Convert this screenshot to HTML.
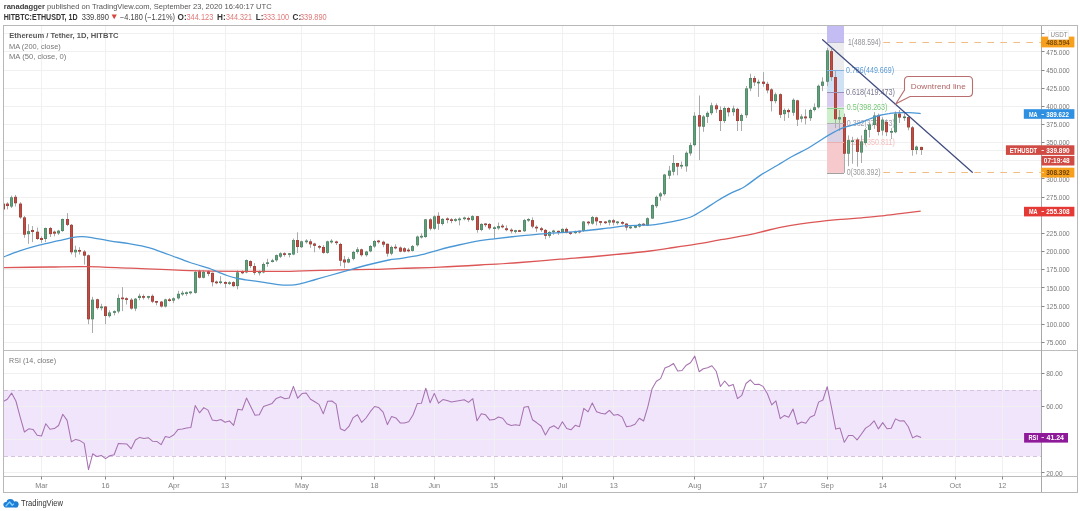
<!DOCTYPE html><html><head><meta charset="utf-8"><title>ETHUSDT chart</title><style>html,body{margin:0;padding:0;background:#fff;width:1080px;height:511px;overflow:hidden;position:relative}</style></head><body><svg width="1080" height="511" viewBox="0 0 1080 511" style="position:absolute;left:0;top:0;filter:blur(0.4px)">
<defs><clipPath id="mainclip"><rect x="4" y="26" width="1037" height="324"/></clipPath><clipPath id="rsiclip"><rect x="4" y="351" width="1037" height="125"/></clipPath></defs>
<rect width="1080" height="511" fill="#fff"/>
<text x="3.7" y="9.2" font-family='"Liberation Sans", Arial, sans-serif' font-size="8" fill="#555" textLength="268" lengthAdjust="spacingAndGlyphs"><tspan font-weight="bold" fill="#3a3a3a">ranadagger</tspan> published on TradingView.com, September 23, 2020 16:40:17 UTC</text>
<text x="3.7" y="19.5" font-family='"Liberation Sans", Arial, sans-serif' font-size="8.2" fill="#333" font-weight="bold" textLength="73.8" lengthAdjust="spacingAndGlyphs">HITBTC:ETHUSDT, 1D</text>
<text x="81.7" y="19.5" font-family='"Liberation Sans", Arial, sans-serif' font-size="8.2" fill="#444" textLength="27.3" lengthAdjust="spacingAndGlyphs">339.890</text>
<path d="M111.6 14.6H116.8L114.2 19.2Z" fill="#d9453f"/>
<text x="120" y="19.5" font-family='"Liberation Sans", Arial, sans-serif' font-size="8.2" fill="#444" textLength="55" lengthAdjust="spacingAndGlyphs">−4.180 (−1.21%)</text>
<text x="177.6" y="19.5" font-family='"Liberation Sans", Arial, sans-serif' font-size="8.2" fill="#333" font-weight="bold">O:</text>
<text x="186.5" y="19.5" font-family='"Liberation Sans", Arial, sans-serif' font-size="8.2" fill="#e07878" textLength="26.8" lengthAdjust="spacingAndGlyphs">344.123</text>
<text x="217" y="19.5" font-family='"Liberation Sans", Arial, sans-serif' font-size="8.2" fill="#333" font-weight="bold">H:</text>
<text x="225.9" y="19.5" font-family='"Liberation Sans", Arial, sans-serif' font-size="8.2" fill="#e07878" textLength="26" lengthAdjust="spacingAndGlyphs">344.321</text>
<text x="255.8" y="19.5" font-family='"Liberation Sans", Arial, sans-serif' font-size="8.2" fill="#333" font-weight="bold">L:</text>
<text x="262.9" y="19.5" font-family='"Liberation Sans", Arial, sans-serif' font-size="8.2" fill="#e07878" textLength="26" lengthAdjust="spacingAndGlyphs">333.100</text>
<text x="292.5" y="19.5" font-family='"Liberation Sans", Arial, sans-serif' font-size="8.2" fill="#333" font-weight="bold">C:</text>
<text x="299.9" y="19.5" font-family='"Liberation Sans", Arial, sans-serif' font-size="8.2" fill="#e07878" textLength="26.8" lengthAdjust="spacingAndGlyphs">339.890</text>
<rect x="4" y="390.0" width="1037" height="66.3" fill="#f1e5fc"/>
<path d="M41.5 26V476M105.5 26V476M173.5 26V476M225.5 26V476M301.5 26V476M374.5 26V476M434.5 26V476M494.5 26V476M562.5 26V476M613.5 26V476M694.5 26V476M763.5 26V476M827.5 26V476M882.5 26V476M955.5 26V476M1002.5 26V476M4 342.5H1041M4 324.5H1041M4 306.5H1041M4 287.5H1041M4 269.5H1041M4 251.5H1041M4 233.5H1041M4 215.5H1041M4 197.5H1041M4 178.5H1041M4 160.5H1041M4 142.5H1041M4 124.5H1041M4 106.5H1041M4 88.5H1041M4 70.5H1041M4 51.5H1041M4 33.5H1041M4 373.5H1041M4 406.5H1041M4 439.5H1041M4 472.5H1041M4 150.5H1041" stroke="#f0f0f0" stroke-width="1" fill="none"/>
<path d="M4 390.5H1041M4 456.5H1041" stroke="#d4c4de" stroke-width="1" stroke-dasharray="4 3" fill="none"/>
<rect x="827" y="26" width="17" height="16.0" fill="#c3bdf3"/>
<rect x="827" y="42.0" width="17" height="28.3" fill="#ecebee"/>
<rect x="827" y="70.3" width="17" height="21.9" fill="#cfe2f5"/>
<rect x="827" y="92.2" width="17" height="15.4" fill="#d9cdef"/>
<rect x="827" y="107.6" width="17" height="15.4" fill="#cdf0cb"/>
<rect x="827" y="123.0" width="17" height="19.1" fill="#dad2e2"/>
<rect x="827" y="142.1" width="17" height="30.8" fill="#f6c9cc"/>
<text x="848" y="44.5" font-family='"Liberation Sans", Arial, sans-serif' font-size="8.2" fill="#909098" textLength="32.7" lengthAdjust="spacingAndGlyphs">1(488.594)</text>
<text x="846" y="72.8" font-family='"Liberation Sans", Arial, sans-serif' font-size="8.2" fill="#5a9ad8" textLength="48" lengthAdjust="spacingAndGlyphs">0.786(449.669)</text>
<text x="846" y="94.7" font-family='"Liberation Sans", Arial, sans-serif' font-size="8.2" fill="#7a7890" textLength="49" lengthAdjust="spacingAndGlyphs">0.618(419.473)</text>
<text x="846.8" y="110.1" font-family='"Liberation Sans", Arial, sans-serif' font-size="8.2" fill="#78c878" textLength="40.7" lengthAdjust="spacingAndGlyphs">0.5(398.263)</text>
<text x="846.8" y="125.5" font-family='"Liberation Sans", Arial, sans-serif' font-size="8.2" fill="#a0a0b0" textLength="48" lengthAdjust="spacingAndGlyphs">0.382(377.053)</text>
<text x="846.8" y="144.6" font-family='"Liberation Sans", Arial, sans-serif' font-size="8.2" fill="#f4c0c0" textLength="48" lengthAdjust="spacingAndGlyphs">0.236(350.811)</text>
<text x="846.7" y="175.4" font-family='"Liberation Sans", Arial, sans-serif' font-size="8.2" fill="#9a9a9a" textLength="34" lengthAdjust="spacingAndGlyphs">0(308.392)</text>
<g clip-path="url(#mainclip)"><path d="M3.5 200.7V211.6" stroke="#aaaaaa" stroke-width="1"/><rect x="2.0" y="203.63" width="3" height="5.81" fill="#923c35"/><rect x="2.5" y="204.13" width="2" height="4.81" fill="#c04d44"/><path d="M7.5 202.2V209.4" stroke="#aaaaaa" stroke-width="1"/><rect x="6.0" y="203.63" width="3" height="2.40" fill="#923c35"/><rect x="6.5" y="204.13" width="2" height="1.40" fill="#c04d44"/><path d="M11.5 195.6V208.0" stroke="#aaaaaa" stroke-width="1"/><rect x="10.0" y="197.39" width="3" height="9.15" fill="#477c5d"/><rect x="10.5" y="197.89" width="2" height="8.15" fill="#62a07c"/><path d="M15.5 194.9V206.5" stroke="#aaaaaa" stroke-width="1"/><rect x="14.0" y="196.81" width="3" height="6.46" fill="#923c35"/><rect x="14.5" y="197.31" width="2" height="5.46" fill="#c04d44"/><path d="M20.5 202.2V218.9" stroke="#aaaaaa" stroke-width="1"/><rect x="19.0" y="203.63" width="3" height="13.79" fill="#923c35"/><rect x="19.5" y="204.13" width="2" height="12.79" fill="#c04d44"/><path d="M24.5 216.0V237.8" stroke="#aaaaaa" stroke-width="1"/><rect x="23.0" y="217.43" width="3" height="17.21" fill="#923c35"/><rect x="23.5" y="217.93" width="2" height="16.21" fill="#c04d44"/><path d="M28.5 224.2V243.8" stroke="#aaaaaa" stroke-width="1"/><rect x="27.0" y="231.22" width="3" height="2.90" fill="#477c5d"/><rect x="27.5" y="231.72" width="2" height="1.90" fill="#62a07c"/><path d="M32.5 226.1V242.1" stroke="#aaaaaa" stroke-width="1"/><rect x="31.0" y="229.99" width="3" height="1.96" fill="#923c35"/><rect x="31.5" y="230.49" width="2" height="0.96" fill="#c04d44"/><path d="M37.5 227.6V239.9" stroke="#aaaaaa" stroke-width="1"/><rect x="36.0" y="231.73" width="3" height="7.26" fill="#923c35"/><rect x="36.5" y="232.23" width="2" height="6.26" fill="#c04d44"/><path d="M41.5 236.3V242.8" stroke="#aaaaaa" stroke-width="1"/><rect x="40.0" y="238.05" width="3" height="1.89" fill="#923c35"/><rect x="40.5" y="238.55" width="2" height="0.89" fill="#c04d44"/><path d="M45.5 227.6V242.1" stroke="#aaaaaa" stroke-width="1"/><rect x="44.0" y="228.03" width="3" height="10.96" fill="#477c5d"/><rect x="44.5" y="228.53" width="2" height="9.96" fill="#62a07c"/><path d="M50.5 226.9V237.0" stroke="#aaaaaa" stroke-width="1"/><rect x="49.0" y="228.03" width="3" height="6.10" fill="#923c35"/><rect x="49.5" y="228.53" width="2" height="5.10" fill="#c04d44"/><path d="M54.5 230.5V236.3" stroke="#aaaaaa" stroke-width="1"/><rect x="53.0" y="231.66" width="3" height="1.96" fill="#923c35"/><rect x="53.5" y="232.16" width="2" height="0.96" fill="#c04d44"/><path d="M58.5 229.8V234.9" stroke="#aaaaaa" stroke-width="1"/><rect x="57.0" y="230.71" width="3" height="2.69" fill="#477c5d"/><rect x="57.5" y="231.21" width="2" height="1.69" fill="#62a07c"/><path d="M62.5 218.5V231.9" stroke="#aaaaaa" stroke-width="1"/><rect x="61.0" y="219.03" width="3" height="11.98" fill="#477c5d"/><rect x="61.5" y="219.53" width="2" height="10.98" fill="#62a07c"/><path d="M67.5 213.1V226.1" stroke="#aaaaaa" stroke-width="1"/><rect x="66.0" y="219.03" width="3" height="5.81" fill="#923c35"/><rect x="66.5" y="219.53" width="2" height="4.81" fill="#c04d44"/><path d="M71.5 224.0V254.5" stroke="#aaaaaa" stroke-width="1"/><rect x="70.0" y="224.83" width="3" height="27.44" fill="#923c35"/><rect x="70.5" y="225.33" width="2" height="26.44" fill="#c04d44"/><path d="M75.5 245.7V257.4" stroke="#aaaaaa" stroke-width="1"/><rect x="74.0" y="249.81" width="3" height="2.47" fill="#477c5d"/><rect x="74.5" y="250.31" width="2" height="1.47" fill="#62a07c"/><path d="M79.5 247.2V254.5" stroke="#aaaaaa" stroke-width="1"/><rect x="78.0" y="250.02" width="3" height="1.60" fill="#923c35"/><rect x="78.5" y="250.52" width="2" height="0.60" fill="#c04d44"/><path d="M84.5 250.1V264.6" stroke="#aaaaaa" stroke-width="1"/><rect x="83.0" y="251.55" width="3" height="4.07" fill="#923c35"/><rect x="83.5" y="252.05" width="2" height="3.07" fill="#c04d44"/><path d="M88.5 254.5V324.2" stroke="#aaaaaa" stroke-width="1"/><rect x="87.0" y="255.33" width="3" height="63.96" fill="#923c35"/><rect x="87.5" y="255.83" width="2" height="62.96" fill="#c04d44"/><path d="M92.5 296.8V333.0" stroke="#aaaaaa" stroke-width="1"/><rect x="91.0" y="299.68" width="3" height="19.60" fill="#477c5d"/><rect x="91.5" y="300.18" width="2" height="18.60" fill="#62a07c"/><path d="M97.5 298.7V309.6" stroke="#aaaaaa" stroke-width="1"/><rect x="96.0" y="299.32" width="3" height="8.78" fill="#923c35"/><rect x="96.5" y="299.82" width="2" height="7.78" fill="#c04d44"/><path d="M101.5 303.8V310.4" stroke="#aaaaaa" stroke-width="1"/><rect x="100.0" y="306.51" width="3" height="1.67" fill="#477c5d"/><rect x="100.5" y="307.01" width="2" height="0.67" fill="#62a07c"/><path d="M105.5 306.0V324.2" stroke="#aaaaaa" stroke-width="1"/><rect x="104.0" y="306.51" width="3" height="9.51" fill="#923c35"/><rect x="104.5" y="307.01" width="2" height="8.51" fill="#c04d44"/><path d="M109.5 310.4V317.6" stroke="#aaaaaa" stroke-width="1"/><rect x="108.0" y="312.53" width="3" height="3.63" fill="#477c5d"/><rect x="108.5" y="313.03" width="2" height="2.63" fill="#62a07c"/><path d="M114.5 310.4V315.4" stroke="#aaaaaa" stroke-width="1"/><rect x="113.0" y="311.19" width="3" height="1.60" fill="#477c5d"/><rect x="113.5" y="311.69" width="2" height="0.60" fill="#62a07c"/><path d="M118.5 294.4V313.3" stroke="#aaaaaa" stroke-width="1"/><rect x="117.0" y="298.01" width="3" height="13.43" fill="#477c5d"/><rect x="117.5" y="298.51" width="2" height="12.43" fill="#62a07c"/><path d="M122.5 287.1V311.1" stroke="#aaaaaa" stroke-width="1"/><rect x="121.0" y="297.58" width="3" height="1.60" fill="#923c35"/><rect x="121.5" y="298.08" width="2" height="0.60" fill="#c04d44"/><path d="M126.5 297.3V304.5" stroke="#aaaaaa" stroke-width="1"/><rect x="125.0" y="298.30" width="3" height="1.60" fill="#923c35"/><rect x="125.5" y="298.80" width="2" height="0.60" fill="#c04d44"/><path d="M131.5 298.0V309.6" stroke="#aaaaaa" stroke-width="1"/><rect x="130.0" y="299.68" width="3" height="8.86" fill="#923c35"/><rect x="130.5" y="300.18" width="2" height="7.86" fill="#c04d44"/><path d="M135.5 298.0V311.1" stroke="#aaaaaa" stroke-width="1"/><rect x="134.0" y="298.74" width="3" height="9.80" fill="#477c5d"/><rect x="134.5" y="299.24" width="2" height="8.80" fill="#62a07c"/><path d="M139.5 293.7V300.2" stroke="#aaaaaa" stroke-width="1"/><rect x="138.0" y="295.84" width="3" height="2.18" fill="#477c5d"/><rect x="138.5" y="296.34" width="2" height="1.18" fill="#62a07c"/><path d="M143.5 294.4V299.5" stroke="#aaaaaa" stroke-width="1"/><rect x="142.0" y="296.12" width="3" height="1.60" fill="#923c35"/><rect x="142.5" y="296.62" width="2" height="0.60" fill="#c04d44"/><path d="M148.5 295.8V299.5" stroke="#aaaaaa" stroke-width="1"/><rect x="147.0" y="296.12" width="3" height="1.60" fill="#477c5d"/><rect x="147.5" y="296.62" width="2" height="0.60" fill="#62a07c"/><path d="M152.5 294.4V303.1" stroke="#aaaaaa" stroke-width="1"/><rect x="151.0" y="295.84" width="3" height="5.81" fill="#923c35"/><rect x="151.5" y="296.34" width="2" height="4.81" fill="#c04d44"/><path d="M156.5 300.9V305.3" stroke="#aaaaaa" stroke-width="1"/><rect x="155.0" y="301.03" width="3" height="1.60" fill="#923c35"/><rect x="155.5" y="301.53" width="2" height="0.60" fill="#c04d44"/><path d="M161.5 300.9V307.5" stroke="#aaaaaa" stroke-width="1"/><rect x="160.0" y="301.64" width="3" height="4.86" fill="#923c35"/><rect x="160.5" y="302.14" width="2" height="3.86" fill="#c04d44"/><path d="M165.5 298.7V307.5" stroke="#aaaaaa" stroke-width="1"/><rect x="164.0" y="299.47" width="3" height="7.04" fill="#477c5d"/><rect x="164.5" y="299.97" width="2" height="6.04" fill="#62a07c"/><path d="M169.5 298.0V301.6" stroke="#aaaaaa" stroke-width="1"/><rect x="168.0" y="299.39" width="3" height="1.60" fill="#923c35"/><rect x="168.5" y="299.89" width="2" height="0.60" fill="#c04d44"/><path d="M173.5 297.3V303.1" stroke="#aaaaaa" stroke-width="1"/><rect x="172.0" y="298.38" width="3" height="2.18" fill="#477c5d"/><rect x="172.5" y="298.88" width="2" height="1.18" fill="#62a07c"/><path d="M178.5 290.8V299.5" stroke="#aaaaaa" stroke-width="1"/><rect x="177.0" y="293.80" width="3" height="4.50" fill="#477c5d"/><rect x="177.5" y="294.30" width="2" height="3.50" fill="#62a07c"/><path d="M182.5 290.8V295.8" stroke="#aaaaaa" stroke-width="1"/><rect x="181.0" y="292.79" width="3" height="1.60" fill="#477c5d"/><rect x="181.5" y="293.29" width="2" height="0.60" fill="#62a07c"/><path d="M186.5 291.5V295.8" stroke="#aaaaaa" stroke-width="1"/><rect x="185.0" y="292.31" width="3" height="1.60" fill="#477c5d"/><rect x="185.5" y="292.81" width="2" height="0.60" fill="#62a07c"/><path d="M190.5 291.5V294.4" stroke="#aaaaaa" stroke-width="1"/><rect x="189.0" y="291.59" width="3" height="1.60" fill="#477c5d"/><rect x="189.5" y="292.09" width="2" height="0.60" fill="#62a07c"/><path d="M195.5 271.2V293.7" stroke="#aaaaaa" stroke-width="1"/><rect x="194.0" y="271.88" width="3" height="20.91" fill="#477c5d"/><rect x="194.5" y="272.38" width="2" height="19.91" fill="#62a07c"/><path d="M199.5 269.7V278.4" stroke="#aaaaaa" stroke-width="1"/><rect x="198.0" y="271.30" width="3" height="6.39" fill="#923c35"/><rect x="198.5" y="271.80" width="2" height="5.39" fill="#c04d44"/><path d="M203.5 270.4V278.4" stroke="#aaaaaa" stroke-width="1"/><rect x="202.0" y="271.88" width="3" height="5.81" fill="#477c5d"/><rect x="202.5" y="272.38" width="2" height="4.81" fill="#62a07c"/><path d="M208.5 270.4V276.2" stroke="#aaaaaa" stroke-width="1"/><rect x="207.0" y="271.30" width="3" height="2.54" fill="#923c35"/><rect x="207.5" y="271.80" width="2" height="1.54" fill="#c04d44"/><path d="M212.5 272.6V286.4" stroke="#aaaaaa" stroke-width="1"/><rect x="211.0" y="272.82" width="3" height="9.37" fill="#923c35"/><rect x="211.5" y="273.32" width="2" height="8.37" fill="#c04d44"/><path d="M216.5 280.6V284.2" stroke="#aaaaaa" stroke-width="1"/><rect x="215.0" y="281.61" width="3" height="1.60" fill="#923c35"/><rect x="215.5" y="282.11" width="2" height="0.60" fill="#c04d44"/><path d="M220.5 276.2V284.2" stroke="#aaaaaa" stroke-width="1"/><rect x="219.0" y="281.42" width="3" height="1.60" fill="#477c5d"/><rect x="219.5" y="281.92" width="2" height="0.60" fill="#62a07c"/><path d="M225.5 281.3V287.9" stroke="#aaaaaa" stroke-width="1"/><rect x="224.0" y="282.04" width="3" height="1.74" fill="#923c35"/><rect x="224.5" y="282.54" width="2" height="0.74" fill="#c04d44"/><path d="M229.5 281.3V284.9" stroke="#aaaaaa" stroke-width="1"/><rect x="228.0" y="282.33" width="3" height="1.60" fill="#477c5d"/><rect x="228.5" y="282.83" width="2" height="0.60" fill="#62a07c"/><path d="M233.5 281.3V287.1" stroke="#aaaaaa" stroke-width="1"/><rect x="232.0" y="282.19" width="3" height="3.92" fill="#923c35"/><rect x="232.5" y="282.69" width="2" height="2.92" fill="#c04d44"/><path d="M237.5 270.4V289.3" stroke="#aaaaaa" stroke-width="1"/><rect x="236.0" y="272.39" width="3" height="13.72" fill="#477c5d"/><rect x="236.5" y="272.89" width="2" height="12.72" fill="#62a07c"/><path d="M242.5 270.4V274.1" stroke="#aaaaaa" stroke-width="1"/><rect x="241.0" y="271.62" width="3" height="1.60" fill="#923c35"/><rect x="241.5" y="272.12" width="2" height="0.60" fill="#c04d44"/><path d="M246.5 259.5V273.3" stroke="#aaaaaa" stroke-width="1"/><rect x="245.0" y="260.12" width="3" height="12.27" fill="#477c5d"/><rect x="245.5" y="260.62" width="2" height="11.27" fill="#62a07c"/><path d="M250.5 260.3V268.2" stroke="#aaaaaa" stroke-width="1"/><rect x="249.0" y="261.13" width="3" height="4.94" fill="#923c35"/><rect x="249.5" y="261.63" width="2" height="3.94" fill="#c04d44"/><path d="M254.5 263.2V274.8" stroke="#aaaaaa" stroke-width="1"/><rect x="253.0" y="266.07" width="3" height="6.75" fill="#923c35"/><rect x="253.5" y="266.57" width="2" height="5.75" fill="#c04d44"/><path d="M259.5 270.4V275.5" stroke="#aaaaaa" stroke-width="1"/><rect x="258.0" y="271.62" width="3" height="1.60" fill="#477c5d"/><rect x="258.5" y="272.12" width="2" height="0.60" fill="#62a07c"/><path d="M263.5 262.4V273.3" stroke="#aaaaaa" stroke-width="1"/><rect x="262.0" y="264.04" width="3" height="8.35" fill="#477c5d"/><rect x="262.5" y="264.54" width="2" height="7.35" fill="#62a07c"/><path d="M267.5 258.8V266.8" stroke="#aaaaaa" stroke-width="1"/><rect x="266.0" y="262.37" width="3" height="1.60" fill="#477c5d"/><rect x="266.5" y="262.87" width="2" height="0.60" fill="#62a07c"/><path d="M272.5 258.8V262.4" stroke="#aaaaaa" stroke-width="1"/><rect x="271.0" y="260.37" width="3" height="1.60" fill="#477c5d"/><rect x="271.5" y="260.87" width="2" height="0.60" fill="#62a07c"/><path d="M276.5 254.5V261.7" stroke="#aaaaaa" stroke-width="1"/><rect x="275.0" y="255.18" width="3" height="5.08" fill="#477c5d"/><rect x="275.5" y="255.68" width="2" height="4.08" fill="#62a07c"/><path d="M280.5 252.3V258.1" stroke="#aaaaaa" stroke-width="1"/><rect x="279.0" y="253.37" width="3" height="3.27" fill="#477c5d"/><rect x="279.5" y="253.87" width="2" height="2.27" fill="#62a07c"/><path d="M284.5 252.3V256.6" stroke="#aaaaaa" stroke-width="1"/><rect x="283.0" y="253.29" width="3" height="1.60" fill="#923c35"/><rect x="283.5" y="253.79" width="2" height="0.60" fill="#c04d44"/><path d="M289.5 253.0V257.4" stroke="#aaaaaa" stroke-width="1"/><rect x="288.0" y="253.29" width="3" height="1.60" fill="#477c5d"/><rect x="288.5" y="253.79" width="2" height="0.60" fill="#62a07c"/><path d="M293.5 238.5V255.2" stroke="#aaaaaa" stroke-width="1"/><rect x="292.0" y="240.08" width="3" height="14.37" fill="#477c5d"/><rect x="292.5" y="240.58" width="2" height="13.37" fill="#62a07c"/><path d="M297.5 232.3V253.0" stroke="#aaaaaa" stroke-width="1"/><rect x="296.0" y="240.08" width="3" height="6.90" fill="#923c35"/><rect x="296.5" y="240.58" width="2" height="5.90" fill="#c04d44"/><path d="M301.5 240.7V247.9" stroke="#aaaaaa" stroke-width="1"/><rect x="300.0" y="241.39" width="3" height="5.81" fill="#477c5d"/><rect x="300.5" y="241.89" width="2" height="4.81" fill="#62a07c"/><path d="M306.5 239.2V243.6" stroke="#aaaaaa" stroke-width="1"/><rect x="305.0" y="240.59" width="3" height="1.60" fill="#477c5d"/><rect x="305.5" y="241.09" width="2" height="0.60" fill="#62a07c"/><path d="M310.5 239.2V247.9" stroke="#aaaaaa" stroke-width="1"/><rect x="309.0" y="241.39" width="3" height="2.90" fill="#923c35"/><rect x="309.5" y="241.89" width="2" height="1.90" fill="#c04d44"/><path d="M314.5 242.8V252.3" stroke="#aaaaaa" stroke-width="1"/><rect x="313.0" y="243.56" width="3" height="2.18" fill="#923c35"/><rect x="313.5" y="244.06" width="2" height="1.18" fill="#c04d44"/><path d="M319.5 245.0V249.4" stroke="#aaaaaa" stroke-width="1"/><rect x="318.0" y="246.03" width="3" height="1.60" fill="#923c35"/><rect x="318.5" y="246.53" width="2" height="0.60" fill="#c04d44"/><path d="M323.5 245.0V253.7" stroke="#aaaaaa" stroke-width="1"/><rect x="322.0" y="246.98" width="3" height="5.81" fill="#923c35"/><rect x="322.5" y="247.48" width="2" height="4.81" fill="#c04d44"/><path d="M327.5 240.7V253.7" stroke="#aaaaaa" stroke-width="1"/><rect x="326.0" y="241.39" width="3" height="11.40" fill="#477c5d"/><rect x="326.5" y="241.89" width="2" height="10.40" fill="#62a07c"/><path d="M331.5 239.2V243.6" stroke="#aaaaaa" stroke-width="1"/><rect x="330.0" y="240.77" width="3" height="1.60" fill="#477c5d"/><rect x="330.5" y="241.27" width="2" height="0.60" fill="#62a07c"/><path d="M336.5 240.7V245.0" stroke="#aaaaaa" stroke-width="1"/><rect x="335.0" y="241.49" width="3" height="1.60" fill="#923c35"/><rect x="335.5" y="241.99" width="2" height="0.60" fill="#c04d44"/><path d="M340.5 242.8V266.1" stroke="#aaaaaa" stroke-width="1"/><rect x="339.0" y="244.00" width="3" height="16.70" fill="#923c35"/><rect x="339.5" y="244.50" width="2" height="15.70" fill="#c04d44"/><path d="M344.5 255.9V268.2" stroke="#aaaaaa" stroke-width="1"/><rect x="343.0" y="259.54" width="3" height="2.90" fill="#923c35"/><rect x="343.5" y="260.04" width="2" height="1.90" fill="#c04d44"/><path d="M348.5 257.4V263.2" stroke="#aaaaaa" stroke-width="1"/><rect x="347.0" y="259.17" width="3" height="3.27" fill="#477c5d"/><rect x="347.5" y="259.67" width="2" height="2.27" fill="#62a07c"/><path d="M353.5 250.8V260.3" stroke="#aaaaaa" stroke-width="1"/><rect x="352.0" y="251.91" width="3" height="6.90" fill="#477c5d"/><rect x="352.5" y="252.41" width="2" height="5.90" fill="#62a07c"/><path d="M357.5 247.2V253.7" stroke="#aaaaaa" stroke-width="1"/><rect x="356.0" y="249.37" width="3" height="2.54" fill="#477c5d"/><rect x="356.5" y="249.87" width="2" height="1.54" fill="#62a07c"/><path d="M361.5 248.6V256.6" stroke="#aaaaaa" stroke-width="1"/><rect x="360.0" y="249.37" width="3" height="5.81" fill="#923c35"/><rect x="360.5" y="249.87" width="2" height="4.81" fill="#c04d44"/><path d="M366.5 250.8V256.6" stroke="#aaaaaa" stroke-width="1"/><rect x="365.0" y="251.55" width="3" height="3.63" fill="#477c5d"/><rect x="365.5" y="252.05" width="2" height="2.63" fill="#62a07c"/><path d="M370.5 245.0V252.3" stroke="#aaaaaa" stroke-width="1"/><rect x="369.0" y="246.03" width="3" height="5.30" fill="#477c5d"/><rect x="369.5" y="246.53" width="2" height="4.30" fill="#62a07c"/><path d="M374.5 239.9V247.9" stroke="#aaaaaa" stroke-width="1"/><rect x="373.0" y="241.02" width="3" height="5.44" fill="#477c5d"/><rect x="373.5" y="241.52" width="2" height="4.44" fill="#62a07c"/><path d="M378.5 239.9V243.6" stroke="#aaaaaa" stroke-width="1"/><rect x="377.0" y="240.59" width="3" height="1.60" fill="#923c35"/><rect x="377.5" y="241.09" width="2" height="0.60" fill="#c04d44"/><path d="M383.5 240.7V247.2" stroke="#aaaaaa" stroke-width="1"/><rect x="382.0" y="241.75" width="3" height="2.90" fill="#923c35"/><rect x="382.5" y="242.25" width="2" height="1.90" fill="#c04d44"/><path d="M387.5 243.6V256.6" stroke="#aaaaaa" stroke-width="1"/><rect x="386.0" y="243.78" width="3" height="9.80" fill="#923c35"/><rect x="386.5" y="244.28" width="2" height="8.80" fill="#c04d44"/><path d="M391.5 245.7V255.2" stroke="#aaaaaa" stroke-width="1"/><rect x="390.0" y="246.98" width="3" height="6.61" fill="#477c5d"/><rect x="390.5" y="247.48" width="2" height="5.61" fill="#62a07c"/><path d="M395.5 244.3V249.4" stroke="#aaaaaa" stroke-width="1"/><rect x="394.0" y="246.76" width="3" height="1.60" fill="#923c35"/><rect x="394.5" y="247.26" width="2" height="0.60" fill="#c04d44"/><path d="M400.5 246.5V252.3" stroke="#aaaaaa" stroke-width="1"/><rect x="399.0" y="247.56" width="3" height="3.99" fill="#923c35"/><rect x="399.5" y="248.06" width="2" height="2.99" fill="#c04d44"/><path d="M404.5 247.2V252.3" stroke="#aaaaaa" stroke-width="1"/><rect x="403.0" y="248.28" width="3" height="3.27" fill="#923c35"/><rect x="403.5" y="248.78" width="2" height="2.27" fill="#c04d44"/><path d="M408.5 247.9V252.3" stroke="#aaaaaa" stroke-width="1"/><rect x="407.0" y="249.66" width="3" height="1.60" fill="#923c35"/><rect x="407.5" y="250.16" width="2" height="0.60" fill="#c04d44"/><path d="M412.5 245.0V251.6" stroke="#aaaaaa" stroke-width="1"/><rect x="411.0" y="246.11" width="3" height="4.72" fill="#477c5d"/><rect x="411.5" y="246.61" width="2" height="3.72" fill="#62a07c"/><path d="M417.5 235.6V246.5" stroke="#aaaaaa" stroke-width="1"/><rect x="416.0" y="236.59" width="3" height="8.64" fill="#477c5d"/><rect x="416.5" y="237.09" width="2" height="7.64" fill="#62a07c"/><path d="M421.5 233.4V238.5" stroke="#aaaaaa" stroke-width="1"/><rect x="420.0" y="235.87" width="3" height="1.60" fill="#477c5d"/><rect x="420.5" y="236.37" width="2" height="0.60" fill="#62a07c"/><path d="M425.5 218.9V237.8" stroke="#aaaaaa" stroke-width="1"/><rect x="424.0" y="219.39" width="3" height="17.64" fill="#477c5d"/><rect x="424.5" y="219.89" width="2" height="16.64" fill="#62a07c"/><path d="M430.5 218.2V230.5" stroke="#aaaaaa" stroke-width="1"/><rect x="429.0" y="219.39" width="3" height="9.29" fill="#923c35"/><rect x="429.5" y="219.89" width="2" height="8.29" fill="#c04d44"/><path d="M434.5 215.2V229.8" stroke="#aaaaaa" stroke-width="1"/><rect x="433.0" y="216.41" width="3" height="12.27" fill="#477c5d"/><rect x="433.5" y="216.91" width="2" height="11.27" fill="#62a07c"/><path d="M438.5 212.3V229.8" stroke="#aaaaaa" stroke-width="1"/><rect x="437.0" y="215.83" width="3" height="7.84" fill="#923c35"/><rect x="437.5" y="216.33" width="2" height="6.84" fill="#c04d44"/><path d="M442.5 218.2V225.4" stroke="#aaaaaa" stroke-width="1"/><rect x="441.0" y="218.88" width="3" height="5.08" fill="#477c5d"/><rect x="441.5" y="219.38" width="2" height="4.08" fill="#62a07c"/><path d="M447.5 217.4V223.2" stroke="#aaaaaa" stroke-width="1"/><rect x="446.0" y="218.44" width="3" height="1.60" fill="#923c35"/><rect x="446.5" y="218.94" width="2" height="0.60" fill="#c04d44"/><path d="M451.5 218.2V223.2" stroke="#aaaaaa" stroke-width="1"/><rect x="450.0" y="219.35" width="3" height="1.60" fill="#923c35"/><rect x="450.5" y="219.85" width="2" height="0.60" fill="#c04d44"/><path d="M455.5 218.2V221.8" stroke="#aaaaaa" stroke-width="1"/><rect x="454.0" y="219.17" width="3" height="1.60" fill="#477c5d"/><rect x="454.5" y="219.67" width="2" height="0.60" fill="#62a07c"/><path d="M459.5 217.4V225.4" stroke="#aaaaaa" stroke-width="1"/><rect x="458.0" y="218.62" width="3" height="1.60" fill="#477c5d"/><rect x="458.5" y="219.12" width="2" height="0.60" fill="#62a07c"/><path d="M464.5 216.7V220.3" stroke="#aaaaaa" stroke-width="1"/><rect x="463.0" y="217.54" width="3" height="1.60" fill="#477c5d"/><rect x="463.5" y="218.04" width="2" height="0.60" fill="#62a07c"/><path d="M468.5 216.7V221.8" stroke="#aaaaaa" stroke-width="1"/><rect x="467.0" y="218.08" width="3" height="1.60" fill="#923c35"/><rect x="467.5" y="218.58" width="2" height="0.60" fill="#c04d44"/><path d="M472.5 215.2V221.1" stroke="#aaaaaa" stroke-width="1"/><rect x="471.0" y="216.19" width="3" height="3.92" fill="#477c5d"/><rect x="471.5" y="216.69" width="2" height="2.92" fill="#62a07c"/><path d="M477.5 216.0V232.7" stroke="#aaaaaa" stroke-width="1"/><rect x="476.0" y="216.19" width="3" height="13.72" fill="#923c35"/><rect x="476.5" y="216.69" width="2" height="12.72" fill="#c04d44"/><path d="M481.5 223.2V231.2" stroke="#aaaaaa" stroke-width="1"/><rect x="480.0" y="223.96" width="3" height="5.95" fill="#477c5d"/><rect x="480.5" y="224.46" width="2" height="4.95" fill="#62a07c"/><path d="M485.5 223.2V226.9" stroke="#aaaaaa" stroke-width="1"/><rect x="484.0" y="223.53" width="3" height="1.60" fill="#923c35"/><rect x="484.5" y="224.03" width="2" height="0.60" fill="#c04d44"/><path d="M489.5 223.2V229.8" stroke="#aaaaaa" stroke-width="1"/><rect x="488.0" y="223.96" width="3" height="4.36" fill="#923c35"/><rect x="488.5" y="224.46" width="2" height="3.36" fill="#c04d44"/><path d="M494.5 226.1V238.7" stroke="#aaaaaa" stroke-width="1"/><rect x="493.0" y="227.34" width="3" height="1.60" fill="#477c5d"/><rect x="493.5" y="227.84" width="2" height="0.60" fill="#62a07c"/><path d="M498.5 222.5V229.8" stroke="#aaaaaa" stroke-width="1"/><rect x="497.0" y="226.14" width="3" height="2.18" fill="#477c5d"/><rect x="497.5" y="226.64" width="2" height="1.18" fill="#62a07c"/><path d="M502.5 224.0V228.3" stroke="#aaaaaa" stroke-width="1"/><rect x="501.0" y="225.70" width="3" height="1.60" fill="#923c35"/><rect x="501.5" y="226.20" width="2" height="0.60" fill="#c04d44"/><path d="M506.5 225.4V231.2" stroke="#aaaaaa" stroke-width="1"/><rect x="505.0" y="228.32" width="3" height="1.81" fill="#923c35"/><rect x="505.5" y="228.82" width="2" height="0.81" fill="#c04d44"/><path d="M511.5 228.3V233.4" stroke="#aaaaaa" stroke-width="1"/><rect x="510.0" y="229.70" width="3" height="1.60" fill="#923c35"/><rect x="510.5" y="230.20" width="2" height="0.60" fill="#c04d44"/><path d="M515.5 229.8V233.4" stroke="#aaaaaa" stroke-width="1"/><rect x="514.0" y="230.24" width="3" height="1.60" fill="#477c5d"/><rect x="514.5" y="230.74" width="2" height="0.60" fill="#62a07c"/><path d="M519.5 229.8V231.9" stroke="#aaaaaa" stroke-width="1"/><rect x="518.0" y="230.24" width="3" height="1.60" fill="#923c35"/><rect x="518.5" y="230.74" width="2" height="0.60" fill="#c04d44"/><path d="M524.5 218.9V231.9" stroke="#aaaaaa" stroke-width="1"/><rect x="523.0" y="220.11" width="3" height="11.11" fill="#477c5d"/><rect x="523.5" y="220.61" width="2" height="10.11" fill="#62a07c"/><path d="M528.5 218.2V221.8" stroke="#aaaaaa" stroke-width="1"/><rect x="527.0" y="218.99" width="3" height="1.60" fill="#477c5d"/><rect x="527.5" y="219.49" width="2" height="0.60" fill="#62a07c"/><path d="M532.5 217.4V228.3" stroke="#aaaaaa" stroke-width="1"/><rect x="531.0" y="220.11" width="3" height="6.46" fill="#923c35"/><rect x="531.5" y="220.61" width="2" height="5.46" fill="#c04d44"/><path d="M536.5 225.4V231.9" stroke="#aaaaaa" stroke-width="1"/><rect x="535.0" y="226.79" width="3" height="1.60" fill="#923c35"/><rect x="535.5" y="227.29" width="2" height="0.60" fill="#c04d44"/><path d="M541.5 226.9V231.9" stroke="#aaaaaa" stroke-width="1"/><rect x="540.0" y="228.32" width="3" height="1.81" fill="#923c35"/><rect x="540.5" y="228.82" width="2" height="0.81" fill="#c04d44"/><path d="M545.5 229.0V239.2" stroke="#aaaaaa" stroke-width="1"/><rect x="544.0" y="229.92" width="3" height="5.88" fill="#923c35"/><rect x="544.5" y="230.42" width="2" height="4.88" fill="#c04d44"/><path d="M549.5 231.2V237.8" stroke="#aaaaaa" stroke-width="1"/><rect x="548.0" y="231.95" width="3" height="3.85" fill="#477c5d"/><rect x="548.5" y="232.45" width="2" height="2.85" fill="#62a07c"/><path d="M553.5 229.8V234.9" stroke="#aaaaaa" stroke-width="1"/><rect x="552.0" y="230.60" width="3" height="1.60" fill="#477c5d"/><rect x="552.5" y="231.10" width="2" height="0.60" fill="#62a07c"/><path d="M558.5 230.5V234.9" stroke="#aaaaaa" stroke-width="1"/><rect x="557.0" y="230.86" width="3" height="1.82" fill="#923c35"/><rect x="557.5" y="231.36" width="2" height="0.82" fill="#c04d44"/><path d="M562.5 228.3V233.4" stroke="#aaaaaa" stroke-width="1"/><rect x="561.0" y="228.90" width="3" height="3.05" fill="#477c5d"/><rect x="561.5" y="229.40" width="2" height="2.05" fill="#62a07c"/><path d="M566.5 227.6V233.4" stroke="#aaaaaa" stroke-width="1"/><rect x="565.0" y="228.90" width="3" height="3.78" fill="#923c35"/><rect x="565.5" y="229.40" width="2" height="2.78" fill="#c04d44"/><path d="M570.5 231.9V234.9" stroke="#aaaaaa" stroke-width="1"/><rect x="569.0" y="232.24" width="3" height="1.60" fill="#923c35"/><rect x="569.5" y="232.74" width="2" height="0.60" fill="#c04d44"/><path d="M575.5 230.5V234.1" stroke="#aaaaaa" stroke-width="1"/><rect x="574.0" y="231.22" width="3" height="1.82" fill="#477c5d"/><rect x="574.5" y="231.72" width="2" height="0.82" fill="#62a07c"/><path d="M579.5 230.5V233.4" stroke="#aaaaaa" stroke-width="1"/><rect x="578.0" y="230.78" width="3" height="1.60" fill="#923c35"/><rect x="578.5" y="231.28" width="2" height="0.60" fill="#c04d44"/><path d="M583.5 221.1V231.9" stroke="#aaaaaa" stroke-width="1"/><rect x="582.0" y="221.57" width="3" height="9.22" fill="#477c5d"/><rect x="582.5" y="222.07" width="2" height="8.22" fill="#62a07c"/><path d="M588.5 221.1V225.4" stroke="#aaaaaa" stroke-width="1"/><rect x="587.0" y="221.71" width="3" height="1.60" fill="#923c35"/><rect x="587.5" y="222.21" width="2" height="0.60" fill="#c04d44"/><path d="M592.5 216.0V224.7" stroke="#aaaaaa" stroke-width="1"/><rect x="591.0" y="217.06" width="3" height="6.53" fill="#477c5d"/><rect x="591.5" y="217.56" width="2" height="5.53" fill="#62a07c"/><path d="M596.5 216.7V225.4" stroke="#aaaaaa" stroke-width="1"/><rect x="595.0" y="217.43" width="3" height="3.92" fill="#923c35"/><rect x="595.5" y="217.93" width="2" height="2.92" fill="#c04d44"/><path d="M600.5 221.1V225.4" stroke="#aaaaaa" stroke-width="1"/><rect x="599.0" y="221.17" width="3" height="1.60" fill="#923c35"/><rect x="599.5" y="221.67" width="2" height="0.60" fill="#c04d44"/><path d="M605.5 221.1V224.0" stroke="#aaaaaa" stroke-width="1"/><rect x="604.0" y="221.53" width="3" height="1.60" fill="#923c35"/><rect x="604.5" y="222.03" width="2" height="0.60" fill="#c04d44"/><path d="M609.5 219.6V225.4" stroke="#aaaaaa" stroke-width="1"/><rect x="608.0" y="220.33" width="3" height="2.18" fill="#477c5d"/><rect x="608.5" y="220.83" width="2" height="1.18" fill="#62a07c"/><path d="M613.5 218.9V225.4" stroke="#aaaaaa" stroke-width="1"/><rect x="612.0" y="220.33" width="3" height="2.18" fill="#923c35"/><rect x="612.5" y="220.83" width="2" height="1.18" fill="#c04d44"/><path d="M617.5 221.1V224.7" stroke="#aaaaaa" stroke-width="1"/><rect x="616.0" y="221.53" width="3" height="1.60" fill="#477c5d"/><rect x="616.5" y="222.03" width="2" height="0.60" fill="#62a07c"/><path d="M622.5 221.1V224.7" stroke="#aaaaaa" stroke-width="1"/><rect x="621.0" y="222.07" width="3" height="1.60" fill="#923c35"/><rect x="621.5" y="222.57" width="2" height="0.60" fill="#c04d44"/><path d="M626.5 223.2V230.5" stroke="#aaaaaa" stroke-width="1"/><rect x="625.0" y="223.60" width="3" height="3.92" fill="#923c35"/><rect x="625.5" y="224.10" width="2" height="2.92" fill="#c04d44"/><path d="M630.5 226.1V229.0" stroke="#aaaaaa" stroke-width="1"/><rect x="629.0" y="226.61" width="3" height="1.60" fill="#477c5d"/><rect x="629.5" y="227.11" width="2" height="0.60" fill="#62a07c"/><path d="M635.5 225.4V228.3" stroke="#aaaaaa" stroke-width="1"/><rect x="634.0" y="226.07" width="3" height="1.60" fill="#477c5d"/><rect x="634.5" y="226.57" width="2" height="0.60" fill="#62a07c"/><path d="M639.5 223.2V227.6" stroke="#aaaaaa" stroke-width="1"/><rect x="638.0" y="223.96" width="3" height="2.54" fill="#477c5d"/><rect x="638.5" y="224.46" width="2" height="1.54" fill="#62a07c"/><path d="M643.5 223.2V226.1" stroke="#aaaaaa" stroke-width="1"/><rect x="642.0" y="223.71" width="3" height="1.60" fill="#923c35"/><rect x="642.5" y="224.21" width="2" height="0.60" fill="#c04d44"/><path d="M647.5 217.4V226.1" stroke="#aaaaaa" stroke-width="1"/><rect x="646.0" y="218.30" width="3" height="7.33" fill="#477c5d"/><rect x="646.5" y="218.80" width="2" height="6.33" fill="#62a07c"/><path d="M652.5 204.4V218.9" stroke="#aaaaaa" stroke-width="1"/><rect x="651.0" y="205.09" width="3" height="13.43" fill="#477c5d"/><rect x="651.5" y="205.59" width="2" height="12.43" fill="#62a07c"/><path d="M656.5 195.6V208.0" stroke="#aaaaaa" stroke-width="1"/><rect x="655.0" y="196.88" width="3" height="9.29" fill="#477c5d"/><rect x="655.5" y="197.38" width="2" height="8.29" fill="#62a07c"/><path d="M660.5 192.0V200.7" stroke="#aaaaaa" stroke-width="1"/><rect x="659.0" y="193.47" width="3" height="2.90" fill="#477c5d"/><rect x="659.5" y="193.97" width="2" height="1.90" fill="#62a07c"/><path d="M664.5 173.9V195.6" stroke="#aaaaaa" stroke-width="1"/><rect x="663.0" y="174.59" width="3" height="19.60" fill="#477c5d"/><rect x="663.5" y="175.09" width="2" height="18.60" fill="#62a07c"/><path d="M669.5 165.9V179.0" stroke="#aaaaaa" stroke-width="1"/><rect x="668.0" y="170.60" width="3" height="5.08" fill="#477c5d"/><rect x="668.5" y="171.10" width="2" height="4.08" fill="#62a07c"/><path d="M673.5 155.0V175.3" stroke="#aaaaaa" stroke-width="1"/><rect x="672.0" y="162.98" width="3" height="8.71" fill="#477c5d"/><rect x="672.5" y="163.48" width="2" height="7.71" fill="#62a07c"/><path d="M677.5 163.0V175.3" stroke="#aaaaaa" stroke-width="1"/><rect x="676.0" y="162.98" width="3" height="3.63" fill="#923c35"/><rect x="676.5" y="163.48" width="2" height="2.63" fill="#c04d44"/><path d="M681.5 161.5V168.8" stroke="#aaaaaa" stroke-width="1"/><rect x="680.0" y="164.90" width="3" height="1.60" fill="#477c5d"/><rect x="680.5" y="165.40" width="2" height="0.60" fill="#62a07c"/><path d="M686.5 151.4V171.7" stroke="#aaaaaa" stroke-width="1"/><rect x="685.0" y="152.81" width="3" height="13.50" fill="#477c5d"/><rect x="685.5" y="153.31" width="2" height="12.50" fill="#62a07c"/><path d="M690.5 142.7V155.7" stroke="#aaaaaa" stroke-width="1"/><rect x="689.0" y="145.19" width="3" height="8.20" fill="#477c5d"/><rect x="689.5" y="145.69" width="2" height="7.20" fill="#62a07c"/><path d="M694.5 112.2V146.3" stroke="#aaaaaa" stroke-width="1"/><rect x="693.0" y="115.79" width="3" height="29.33" fill="#477c5d"/><rect x="693.5" y="116.29" width="2" height="28.33" fill="#62a07c"/><path d="M699.5 95.5V160.1" stroke="#aaaaaa" stroke-width="1"/><rect x="698.0" y="115.21" width="3" height="11.33" fill="#923c35"/><rect x="698.5" y="115.71" width="2" height="10.33" fill="#c04d44"/><path d="M703.5 115.1V131.8" stroke="#aaaaaa" stroke-width="1"/><rect x="702.0" y="116.51" width="3" height="10.16" fill="#477c5d"/><rect x="702.5" y="117.01" width="2" height="9.16" fill="#62a07c"/><path d="M707.5 111.4V123.0" stroke="#aaaaaa" stroke-width="1"/><rect x="706.0" y="112.88" width="3" height="3.92" fill="#477c5d"/><rect x="706.5" y="113.38" width="2" height="2.92" fill="#62a07c"/><path d="M711.5 102.7V115.1" stroke="#aaaaaa" stroke-width="1"/><rect x="710.0" y="105.41" width="3" height="7.77" fill="#477c5d"/><rect x="710.5" y="105.91" width="2" height="6.77" fill="#62a07c"/><path d="M716.5 103.4V112.9" stroke="#aaaaaa" stroke-width="1"/><rect x="715.0" y="105.41" width="3" height="3.85" fill="#923c35"/><rect x="715.5" y="105.91" width="2" height="2.85" fill="#c04d44"/><path d="M720.5 106.4V131.0" stroke="#aaaaaa" stroke-width="1"/><rect x="719.0" y="109.98" width="3" height="11.04" fill="#923c35"/><rect x="719.5" y="110.48" width="2" height="10.04" fill="#c04d44"/><path d="M724.5 106.4V123.0" stroke="#aaaaaa" stroke-width="1"/><rect x="723.0" y="108.02" width="3" height="13.00" fill="#477c5d"/><rect x="723.5" y="108.52" width="2" height="12.00" fill="#62a07c"/><path d="M728.5 107.1V116.5" stroke="#aaaaaa" stroke-width="1"/><rect x="727.0" y="108.02" width="3" height="4.28" fill="#923c35"/><rect x="727.5" y="108.52" width="2" height="3.28" fill="#c04d44"/><path d="M733.5 105.6V115.8" stroke="#aaaaaa" stroke-width="1"/><rect x="732.0" y="108.53" width="3" height="3.63" fill="#477c5d"/><rect x="732.5" y="109.03" width="2" height="2.63" fill="#62a07c"/><path d="M737.5 107.8V131.0" stroke="#aaaaaa" stroke-width="1"/><rect x="736.0" y="108.89" width="3" height="12.12" fill="#923c35"/><rect x="736.5" y="109.39" width="2" height="11.12" fill="#c04d44"/><path d="M741.5 113.6V131.0" stroke="#aaaaaa" stroke-width="1"/><rect x="740.0" y="115.06" width="3" height="5.81" fill="#477c5d"/><rect x="740.5" y="115.56" width="2" height="4.81" fill="#62a07c"/><path d="M746.5 86.0V118.0" stroke="#aaaaaa" stroke-width="1"/><rect x="745.0" y="88.42" width="3" height="26.79" fill="#477c5d"/><rect x="745.5" y="88.92" width="2" height="25.79" fill="#62a07c"/><path d="M750.5 73.7V91.1" stroke="#aaaaaa" stroke-width="1"/><rect x="749.0" y="78.04" width="3" height="10.38" fill="#477c5d"/><rect x="749.5" y="78.54" width="2" height="9.38" fill="#62a07c"/><path d="M754.5 75.9V86.0" stroke="#aaaaaa" stroke-width="1"/><rect x="753.0" y="78.04" width="3" height="4.36" fill="#923c35"/><rect x="753.5" y="78.54" width="2" height="3.36" fill="#c04d44"/><path d="M758.5 79.5V96.9" stroke="#aaaaaa" stroke-width="1"/><rect x="757.0" y="81.77" width="3" height="1.60" fill="#477c5d"/><path d="M763.5 72.2V86.7" stroke="#aaaaaa" stroke-width="1"/><rect x="762.0" y="81.67" width="3" height="2.18" fill="#923c35"/><rect x="762.5" y="82.17" width="2" height="1.18" fill="#c04d44"/><path d="M767.5 81.7V93.3" stroke="#aaaaaa" stroke-width="1"/><rect x="766.0" y="83.84" width="3" height="6.53" fill="#923c35"/><rect x="766.5" y="84.34" width="2" height="5.53" fill="#c04d44"/><path d="M771.5 88.2V111.4" stroke="#aaaaaa" stroke-width="1"/><rect x="770.0" y="89.43" width="3" height="11.69" fill="#923c35"/><rect x="770.5" y="89.93" width="2" height="10.69" fill="#c04d44"/><path d="M775.5 92.6V103.4" stroke="#aaaaaa" stroke-width="1"/><rect x="774.0" y="94.37" width="3" height="6.75" fill="#477c5d"/><rect x="774.5" y="94.87" width="2" height="5.75" fill="#62a07c"/><path d="M780.5 93.3V118.0" stroke="#aaaaaa" stroke-width="1"/><rect x="779.0" y="94.23" width="3" height="20.55" fill="#923c35"/><rect x="779.5" y="94.73" width="2" height="19.55" fill="#c04d44"/><path d="M784.5 108.5V120.9" stroke="#aaaaaa" stroke-width="1"/><rect x="783.0" y="109.98" width="3" height="4.14" fill="#477c5d"/><rect x="783.5" y="110.48" width="2" height="3.14" fill="#62a07c"/><path d="M788.5 108.5V118.0" stroke="#aaaaaa" stroke-width="1"/><rect x="787.0" y="109.98" width="3" height="2.18" fill="#923c35"/><rect x="787.5" y="110.48" width="2" height="1.18" fill="#c04d44"/><path d="M793.5 98.4V115.8" stroke="#aaaaaa" stroke-width="1"/><rect x="792.0" y="99.82" width="3" height="12.85" fill="#477c5d"/><rect x="792.5" y="100.32" width="2" height="11.85" fill="#62a07c"/><path d="M797.5 99.8V126.0" stroke="#aaaaaa" stroke-width="1"/><rect x="796.0" y="100.40" width="3" height="19.24" fill="#923c35"/><rect x="796.5" y="100.90" width="2" height="18.24" fill="#c04d44"/><path d="M801.5 114.3V122.3" stroke="#aaaaaa" stroke-width="1"/><rect x="800.0" y="116.51" width="3" height="2.18" fill="#477c5d"/><rect x="800.5" y="117.01" width="2" height="1.18" fill="#62a07c"/><path d="M805.5 109.3V124.5" stroke="#aaaaaa" stroke-width="1"/><rect x="804.0" y="116.51" width="3" height="1.81" fill="#923c35"/><rect x="804.5" y="117.01" width="2" height="0.81" fill="#c04d44"/><path d="M810.5 108.5V120.9" stroke="#aaaaaa" stroke-width="1"/><rect x="809.0" y="109.98" width="3" height="8.20" fill="#477c5d"/><rect x="809.5" y="110.48" width="2" height="7.20" fill="#62a07c"/><path d="M814.5 103.4V111.4" stroke="#aaaaaa" stroke-width="1"/><rect x="813.0" y="107.29" width="3" height="2.69" fill="#477c5d"/><rect x="813.5" y="107.79" width="2" height="1.69" fill="#62a07c"/><path d="M818.5 84.6V108.5" stroke="#aaaaaa" stroke-width="1"/><rect x="817.0" y="85.80" width="3" height="21.49" fill="#477c5d"/><rect x="817.5" y="86.30" width="2" height="20.49" fill="#62a07c"/><path d="M822.5 77.3V91.1" stroke="#aaaaaa" stroke-width="1"/><rect x="821.0" y="81.67" width="3" height="4.14" fill="#477c5d"/><rect x="821.5" y="82.17" width="2" height="3.14" fill="#62a07c"/><path d="M827.5 47.9V86.0" stroke="#aaaaaa" stroke-width="1"/><rect x="826.0" y="50.45" width="3" height="31.22" fill="#477c5d"/><rect x="826.5" y="50.95" width="2" height="30.22" fill="#62a07c"/><path d="M831.5 49.0V80.9" stroke="#aaaaaa" stroke-width="1"/><rect x="830.0" y="51.17" width="3" height="25.92" fill="#923c35"/><rect x="830.5" y="51.67" width="2" height="24.92" fill="#c04d44"/><path d="M835.5 70.8V128.1" stroke="#aaaaaa" stroke-width="1"/><rect x="834.0" y="77.09" width="3" height="42.11" fill="#923c35"/><rect x="834.5" y="77.59" width="2" height="41.11" fill="#c04d44"/><path d="M839.5 110.0V131.0" stroke="#aaaaaa" stroke-width="1"/><rect x="838.0" y="117.24" width="3" height="2.18" fill="#477c5d"/><rect x="838.5" y="117.74" width="2" height="1.18" fill="#62a07c"/><path d="M844.5 113.6V172.9" stroke="#aaaaaa" stroke-width="1"/><rect x="843.0" y="117.09" width="3" height="36.59" fill="#923c35"/><rect x="843.5" y="117.59" width="2" height="35.59" fill="#c04d44"/><path d="M848.5 135.4V166.2" stroke="#aaaaaa" stroke-width="1"/><rect x="847.0" y="140.25" width="3" height="13.43" fill="#477c5d"/><rect x="847.5" y="140.75" width="2" height="12.43" fill="#62a07c"/><path d="M852.5 136.8V163.7" stroke="#aaaaaa" stroke-width="1"/><rect x="851.0" y="140.40" width="3" height="1.60" fill="#477c5d"/><rect x="851.5" y="140.90" width="2" height="0.60" fill="#62a07c"/><path d="M857.5 137.6V166.6" stroke="#aaaaaa" stroke-width="1"/><rect x="856.0" y="139.53" width="3" height="12.27" fill="#923c35"/><rect x="856.5" y="140.03" width="2" height="11.27" fill="#c04d44"/><path d="M861.5 135.4V163.0" stroke="#aaaaaa" stroke-width="1"/><rect x="860.0" y="141.49" width="3" height="11.04" fill="#477c5d"/><rect x="860.5" y="141.99" width="2" height="10.04" fill="#62a07c"/><path d="M865.5 128.1V144.8" stroke="#aaaaaa" stroke-width="1"/><rect x="864.0" y="129.87" width="3" height="13.07" fill="#477c5d"/><rect x="864.5" y="130.37" width="2" height="12.07" fill="#62a07c"/><path d="M869.5 123.0V137.6" stroke="#aaaaaa" stroke-width="1"/><rect x="868.0" y="124.50" width="3" height="5.37" fill="#477c5d"/><rect x="868.5" y="125.00" width="2" height="4.37" fill="#62a07c"/><path d="M874.5 112.2V128.9" stroke="#aaaaaa" stroke-width="1"/><rect x="873.0" y="115.50" width="3" height="9.51" fill="#477c5d"/><rect x="873.5" y="116.00" width="2" height="8.51" fill="#62a07c"/><path d="M878.5 113.6V135.4" stroke="#aaaaaa" stroke-width="1"/><rect x="877.0" y="115.50" width="3" height="16.41" fill="#923c35"/><rect x="877.5" y="116.00" width="2" height="15.41" fill="#c04d44"/><path d="M882.5 117.2V135.4" stroke="#aaaaaa" stroke-width="1"/><rect x="881.0" y="119.64" width="3" height="10.89" fill="#477c5d"/><rect x="881.5" y="120.14" width="2" height="9.89" fill="#62a07c"/><path d="M886.5 119.4V136.1" stroke="#aaaaaa" stroke-width="1"/><rect x="885.0" y="121.89" width="3" height="10.31" fill="#923c35"/><rect x="885.5" y="122.39" width="2" height="9.31" fill="#c04d44"/><path d="M891.5 128.1V139.0" stroke="#aaaaaa" stroke-width="1"/><rect x="890.0" y="131.00" width="3" height="1.60" fill="#477c5d"/><rect x="890.5" y="131.50" width="2" height="0.60" fill="#62a07c"/><path d="M895.5 111.4V133.2" stroke="#aaaaaa" stroke-width="1"/><rect x="894.0" y="113.61" width="3" height="18.59" fill="#477c5d"/><rect x="894.5" y="114.11" width="2" height="17.59" fill="#62a07c"/><path d="M899.5 110.0V123.0" stroke="#aaaaaa" stroke-width="1"/><rect x="898.0" y="113.61" width="3" height="3.92" fill="#923c35"/><rect x="898.5" y="114.11" width="2" height="2.92" fill="#c04d44"/><path d="M904.5 112.9V120.9" stroke="#aaaaaa" stroke-width="1"/><rect x="903.0" y="116.51" width="3" height="1.60" fill="#477c5d"/><path d="M908.5 116.5V130.3" stroke="#aaaaaa" stroke-width="1"/><rect x="907.0" y="117.09" width="3" height="10.31" fill="#923c35"/><rect x="907.5" y="117.59" width="2" height="9.31" fill="#c04d44"/><path d="M912.5 126.0V155.7" stroke="#aaaaaa" stroke-width="1"/><rect x="911.0" y="127.40" width="3" height="22.58" fill="#923c35"/><rect x="911.5" y="127.90" width="2" height="21.58" fill="#c04d44"/><path d="M916.5 145.6V154.3" stroke="#aaaaaa" stroke-width="1"/><rect x="915.0" y="146.64" width="3" height="3.34" fill="#477c5d"/><rect x="915.5" y="147.14" width="2" height="2.34" fill="#62a07c"/><path d="M921.5 146.8V154.9" stroke="#aaaaaa" stroke-width="1"/><rect x="920.0" y="146.92" width="3" height="3.07" fill="#923c35"/><rect x="920.5" y="147.42" width="2" height="2.07" fill="#c04d44"/></g>
<g clip-path="url(#mainclip)"><path d="M3.9 267.6C11.6 267.5 36.1 267.2 50.0 267.0C63.9 266.8 73.7 266.4 87.0 266.6C100.3 266.8 112.8 267.5 130.0 268.2C147.2 268.9 171.7 270.1 190.0 270.6C208.3 271.1 223.3 271.2 240.0 271.3C256.7 271.4 273.3 271.6 290.0 271.3C306.7 271.1 326.7 270.1 340.0 269.8C353.3 269.5 360.0 269.6 370.0 269.4C380.0 269.2 388.3 268.8 400.0 268.4C411.7 268.0 426.7 267.8 440.0 267.2C453.3 266.6 466.7 265.8 480.0 265.0C493.3 264.2 506.7 263.5 520.0 262.5C533.3 261.5 546.7 260.3 560.0 259.2C573.3 258.1 585.0 257.4 600.0 256.0C615.0 254.6 638.7 252.3 650.0 251.0C661.3 249.7 660.3 249.4 668.0 248.3C675.7 247.2 686.8 245.7 696.0 244.2C705.2 242.7 713.8 241.0 723.0 239.4C732.2 237.8 744.0 235.8 751.0 234.4C758.0 233.0 760.3 232.1 765.0 231.0C769.7 229.9 773.0 228.8 779.0 227.6C785.0 226.4 793.7 224.9 800.7 223.9C807.7 222.9 814.2 222.1 821.0 221.3C827.8 220.5 834.7 219.9 841.5 219.3C848.3 218.7 855.2 218.4 862.0 217.8C868.8 217.2 875.7 216.6 882.0 215.9C888.3 215.2 893.5 214.5 900.0 213.7C906.5 212.9 917.2 211.5 920.7 211.1" fill="none" stroke="#dc5656" stroke-width="1.3" stroke-linejoin="round"/>
<path d="M3.9 256.8C6.5 255.8 13.7 252.9 19.6 250.9C25.5 248.9 32.6 246.8 39.1 245.1C45.6 243.4 53.0 242.0 58.7 240.7C64.4 239.4 69.7 238.1 73.4 237.4C77.2 236.7 78.4 236.7 81.2 236.7C84.0 236.7 85.3 236.6 90.0 237.3C94.7 238.0 103.1 239.7 109.6 240.8C116.1 241.9 122.6 242.6 129.1 243.7C135.6 244.8 142.2 245.8 148.7 247.6C155.2 249.4 161.4 252.0 168.3 254.5C175.2 257.0 183.3 260.2 190.0 262.5C196.7 264.8 203.9 266.6 208.5 268.1C213.1 269.7 214.7 270.6 217.8 271.8C220.9 273.0 223.9 274.4 227.0 275.5C230.1 276.6 233.2 277.5 236.3 278.2C239.4 278.9 241.0 279.1 245.6 279.8C250.2 280.5 258.6 281.6 264.0 282.4C269.4 283.2 273.7 284.1 278.0 284.6C282.3 285.1 286.3 285.3 290.0 285.2C293.7 285.1 296.0 284.7 300.0 283.8C304.0 282.9 309.3 281.3 314.0 280.0C318.7 278.7 323.7 277.2 328.0 276.0C332.3 274.8 336.4 273.6 340.0 272.6C343.6 271.6 344.9 271.2 349.8 269.8C354.7 268.4 362.9 266.1 369.4 264.5C375.9 262.9 383.8 261.0 388.9 260.0C394.0 259.0 394.9 259.4 400.0 258.6C405.1 257.8 413.1 256.7 419.6 255.2C426.1 253.7 432.6 251.5 439.1 249.8C445.6 248.1 451.9 246.5 458.7 245.0C465.5 243.5 474.1 241.7 480.0 240.7C485.9 239.7 488.2 239.5 494.1 238.8C500.0 238.1 507.8 237.2 515.3 236.4C522.8 235.6 531.3 234.7 538.8 234.1C546.2 233.5 552.5 233.1 560.0 232.6C567.5 232.1 575.7 231.5 583.5 230.8C591.3 230.1 600.1 229.0 607.0 228.2C613.9 227.4 618.7 226.3 624.6 225.8C630.5 225.3 637.5 225.4 642.2 225.2C646.9 225.0 648.8 225.2 652.7 224.8C656.6 224.4 661.1 223.6 665.4 222.8C669.6 222.1 674.0 221.3 678.2 220.3C682.5 219.3 686.7 218.8 690.9 217.0C695.1 215.2 699.4 212.4 703.6 209.8C707.8 207.2 712.1 204.1 716.3 201.5C720.5 198.9 725.0 196.3 729.0 194.2C733.0 192.1 737.2 190.5 740.0 189.1C742.8 187.7 742.5 188.2 746.0 185.8C749.5 183.4 755.8 178.3 761.0 174.9C766.2 171.5 771.7 168.7 777.0 165.5C782.3 162.3 787.8 158.9 793.0 156.0C798.2 153.1 802.8 151.2 808.0 148.2C813.2 145.2 818.7 141.2 824.0 138.0C829.3 134.8 835.7 131.2 840.0 129.2C844.3 127.2 846.5 126.8 849.8 125.8C853.1 124.8 856.3 124.0 859.6 122.9C862.9 121.8 866.1 120.2 869.4 119.0C872.6 117.8 875.9 116.4 879.1 115.5C882.4 114.6 886.3 114.0 888.9 113.6C891.5 113.1 891.5 113.0 894.8 112.8C898.1 112.6 904.2 112.5 908.5 112.6C912.8 112.7 918.7 113.4 920.7 113.6" fill="none" stroke="#4a97d6" stroke-width="1.3" stroke-linejoin="round"/></g>
<path d="M827 42.5H844" stroke="#b8b4d8" stroke-width="1"/>
<path d="M827 70.5H844" stroke="#7fb0e0" stroke-width="1"/>
<path d="M827 92.5H844" stroke="#9a90b8" stroke-width="1"/>
<path d="M827 108.5H844" stroke="#90d090" stroke-width="1"/>
<path d="M827 123.5H844" stroke="#b0b0b8" stroke-width="1"/>
<path d="M827 142.5H844" stroke="#eab0b0" stroke-width="1"/>
<path d="M827 173.5H844" stroke="#a0a0a0" stroke-width="1"/>
<path d="M883.3 42.5H1041" stroke="#f2bd84" stroke-width="1.1" stroke-dasharray="6.7 6.3"/>
<path d="M883.3 172.5H1041" stroke="#f2bd84" stroke-width="1.1" stroke-dasharray="6.7 6.3"/>
<path d="M822.6 39.7L972.3 172.3" stroke="#404c80" stroke-width="1.25" stroke-linecap="round"/>
<path d="M908.5 76.5H968.5Q972.5 76.5 972.5 80.5V92.5Q972.5 96.5 968.5 96.5H910L895.8 103.8L904.5 90V80.5Q904.5 76.5 908.5 76.5Z" fill="#fff" stroke="#b86e6e" stroke-width="1.1"/>
<text x="910.8" y="88.6" font-family='"Liberation Sans", Arial, sans-serif' font-size="8" fill="#b06464" textLength="55" lengthAdjust="spacingAndGlyphs">Downtrend line</text>
<g clip-path="url(#rsiclip)"><polyline points="3.1,401.7 7.3,399.2 11.6,393.1 15.9,401.0 20.2,417.1 24.4,432.0 28.7,428.8 33.0,429.4 37.2,435.2 41.5,436.0 45.8,423.7 50.0,429.2 54.3,428.6 58.6,425.5 62.8,414.3 67.1,420.4 71.4,441.8 75.7,439.4 79.9,440.6 84.2,443.4 88.5,469.6 92.7,453.8 97.0,456.6 101.3,455.4 105.5,458.6 109.8,455.7 114.1,454.7 118.4,443.4 122.6,443.7 126.9,444.1 131.2,448.8 135.4,440.0 139.7,437.4 144.0,438.4 148.2,437.7 152.5,441.2 156.8,441.4 161.1,444.7 165.3,436.6 169.6,437.4 173.9,434.8 178.1,429.4 182.4,428.9 186.7,427.9 190.9,427.4 195.2,405.6 199.5,412.8 203.8,407.6 208.0,410.1 212.3,420.1 216.6,420.7 220.8,419.5 225.1,422.2 229.4,420.9 233.6,425.4 237.9,409.2 242.2,410.0 246.5,398.1 250.7,406.6 255.0,415.3 259.3,414.7 263.5,406.6 267.8,405.1 272.1,403.4 276.3,398.4 280.6,396.8 284.9,398.7 289.2,398.0 293.4,386.4 297.7,398.2 302.0,393.6 306.2,393.0 310.5,399.3 314.8,401.8 319.0,404.4 323.3,413.8 327.6,401.3 331.9,401.0 336.1,404.2 340.4,428.8 344.7,430.7 348.9,426.4 353.2,417.6 357.5,414.7 361.7,422.4 366.0,418.0 370.3,411.7 374.6,406.5 378.8,407.6 383.1,412.2 387.4,424.6 391.6,416.6 395.9,417.9 400.2,422.9 404.4,422.9 408.7,421.8 413.0,415.0 417.3,403.6 421.5,403.2 425.8,388.2 430.1,402.8 434.3,393.4 438.6,403.2 442.9,399.6 447.1,400.6 451.4,402.1 455.7,401.2 460.0,400.5 464.2,399.8 468.5,402.4 472.8,398.7 477.0,420.8 481.3,413.7 485.6,414.8 489.8,420.1 494.1,419.6 498.4,417.0 502.7,418.2 506.9,423.7 511.2,425.5 515.5,424.8 519.7,425.5 524.0,407.2 528.3,406.5 532.5,419.8 536.8,422.8 541.1,426.0 545.4,435.0 549.6,427.8 553.9,425.8 558.2,428.9 562.4,421.8 566.7,428.5 571.0,429.8 575.2,425.3 579.5,426.7 583.8,408.3 588.1,411.8 592.3,402.9 596.6,411.7 600.9,413.2 605.1,414.0 609.4,410.3 613.7,415.2 617.9,414.5 622.2,417.1 626.5,426.7 630.8,426.0 635.0,424.3 639.3,418.2 643.6,421.0 647.8,406.8 652.1,388.7 656.4,381.3 660.6,378.6 664.9,368.0 669.2,366.3 673.5,363.5 677.7,371.0 682.0,370.5 686.3,365.2 690.5,362.7 694.8,356.1 699.1,371.7 703.3,368.7 707.6,367.7 711.9,365.7 716.2,371.2 720.4,386.5 724.7,381.0 729.0,386.1 733.2,384.4 737.5,398.6 741.8,395.3 746.0,383.5 750.3,379.9 754.6,384.5 758.9,384.3 763.1,386.4 767.4,393.8 771.7,404.9 775.9,400.8 780.2,418.7 784.5,415.4 788.7,417.2 793.0,409.0 797.3,424.2 801.6,422.0 805.8,423.3 810.1,417.2 814.4,415.3 818.6,402.1 822.9,400.0 827.2,386.7 831.4,406.9 835.7,429.1 840.0,428.1 844.3,442.3 848.5,435.4 852.8,435.5 857.1,439.9 861.3,434.2 865.6,428.1 869.9,425.4 874.1,420.8 878.4,428.9 882.7,422.6 887.0,428.7 891.2,428.2 895.5,418.9 899.8,421.0 904.0,420.8 908.3,426.7 912.6,437.9 916.8,435.7 921.1,437.4" fill="none" stroke="#a672b0" stroke-width="1.05" stroke-linejoin="round"/></g>
<path d="M4 350.5H1077M4 476.5H1077" stroke="#bdbdbd" stroke-width="1"/>
<path d="M1041.5 26V492" stroke="#a8a8a8" stroke-width="1"/>
<rect x="3.5" y="25.5" width="1074.0" height="467.0" fill="none" stroke="#b8b8b8" stroke-width="1"/>
<text x="1046.2" y="344.9" font-family='"Liberation Sans", Arial, sans-serif' font-size="7.3" fill="#777" textLength="20" lengthAdjust="spacingAndGlyphs">75.000</text>
<text x="1046.2" y="326.8" font-family='"Liberation Sans", Arial, sans-serif' font-size="7.3" fill="#777" textLength="23.4" lengthAdjust="spacingAndGlyphs">100.000</text>
<text x="1046.2" y="308.6" font-family='"Liberation Sans", Arial, sans-serif' font-size="7.3" fill="#777" textLength="23.4" lengthAdjust="spacingAndGlyphs">125.000</text>
<text x="1046.2" y="290.5" font-family='"Liberation Sans", Arial, sans-serif' font-size="7.3" fill="#777" textLength="23.4" lengthAdjust="spacingAndGlyphs">150.000</text>
<text x="1046.2" y="272.3" font-family='"Liberation Sans", Arial, sans-serif' font-size="7.3" fill="#777" textLength="23.4" lengthAdjust="spacingAndGlyphs">175.000</text>
<text x="1046.2" y="254.2" font-family='"Liberation Sans", Arial, sans-serif' font-size="7.3" fill="#777" textLength="23.4" lengthAdjust="spacingAndGlyphs">200.000</text>
<text x="1046.2" y="236.0" font-family='"Liberation Sans", Arial, sans-serif' font-size="7.3" fill="#777" textLength="23.4" lengthAdjust="spacingAndGlyphs">225.000</text>
<text x="1046.2" y="199.7" font-family='"Liberation Sans", Arial, sans-serif' font-size="7.3" fill="#777" textLength="23.4" lengthAdjust="spacingAndGlyphs">275.000</text>
<text x="1046.2" y="181.6" font-family='"Liberation Sans", Arial, sans-serif' font-size="7.3" fill="#777" textLength="23.4" lengthAdjust="spacingAndGlyphs">300.000</text>
<text x="1046.2" y="145.2" font-family='"Liberation Sans", Arial, sans-serif' font-size="7.3" fill="#777" textLength="23.4" lengthAdjust="spacingAndGlyphs">350.000</text>
<text x="1046.2" y="127.1" font-family='"Liberation Sans", Arial, sans-serif' font-size="7.3" fill="#777" textLength="23.4" lengthAdjust="spacingAndGlyphs">375.000</text>
<text x="1046.2" y="109.0" font-family='"Liberation Sans", Arial, sans-serif' font-size="7.3" fill="#777" textLength="23.4" lengthAdjust="spacingAndGlyphs">400.000</text>
<text x="1046.2" y="90.8" font-family='"Liberation Sans", Arial, sans-serif' font-size="7.3" fill="#777" textLength="23.4" lengthAdjust="spacingAndGlyphs">425.000</text>
<text x="1046.2" y="72.7" font-family='"Liberation Sans", Arial, sans-serif' font-size="7.3" fill="#777" textLength="23.4" lengthAdjust="spacingAndGlyphs">450.000</text>
<text x="1046.2" y="54.5" font-family='"Liberation Sans", Arial, sans-serif' font-size="7.3" fill="#777" textLength="23.4" lengthAdjust="spacingAndGlyphs">475.000</text>
<text x="1046.2" y="376.0" font-family='"Liberation Sans", Arial, sans-serif' font-size="7.3" fill="#777" textLength="16.5" lengthAdjust="spacingAndGlyphs">80.00</text>
<text x="1046.2" y="409.2" font-family='"Liberation Sans", Arial, sans-serif' font-size="7.3" fill="#777" textLength="16.5" lengthAdjust="spacingAndGlyphs">60.00</text>
<text x="1046.2" y="475.5" font-family='"Liberation Sans", Arial, sans-serif' font-size="7.3" fill="#777" textLength="16.5" lengthAdjust="spacingAndGlyphs">20.00</text>
<text x="41.5" y="487.8" text-anchor="middle" font-family='"Liberation Sans", Arial, sans-serif' font-size="7.3" fill="#808080">Mar</text>
<text x="105.5" y="487.8" text-anchor="middle" font-family='"Liberation Sans", Arial, sans-serif' font-size="7.3" fill="#808080">16</text>
<text x="173.9" y="487.8" text-anchor="middle" font-family='"Liberation Sans", Arial, sans-serif' font-size="7.3" fill="#808080">Apr</text>
<text x="225.1" y="487.8" text-anchor="middle" font-family='"Liberation Sans", Arial, sans-serif' font-size="7.3" fill="#808080">13</text>
<text x="302.0" y="487.8" text-anchor="middle" font-family='"Liberation Sans", Arial, sans-serif' font-size="7.3" fill="#808080">May</text>
<text x="374.6" y="487.8" text-anchor="middle" font-family='"Liberation Sans", Arial, sans-serif' font-size="7.3" fill="#808080">18</text>
<text x="434.3" y="487.8" text-anchor="middle" font-family='"Liberation Sans", Arial, sans-serif' font-size="7.3" fill="#808080">Jun</text>
<text x="494.1" y="487.8" text-anchor="middle" font-family='"Liberation Sans", Arial, sans-serif' font-size="7.3" fill="#808080">15</text>
<text x="562.4" y="487.8" text-anchor="middle" font-family='"Liberation Sans", Arial, sans-serif' font-size="7.3" fill="#808080">Jul</text>
<text x="613.7" y="487.8" text-anchor="middle" font-family='"Liberation Sans", Arial, sans-serif' font-size="7.3" fill="#808080">13</text>
<text x="694.8" y="487.8" text-anchor="middle" font-family='"Liberation Sans", Arial, sans-serif' font-size="7.3" fill="#808080">Aug</text>
<text x="763.1" y="487.8" text-anchor="middle" font-family='"Liberation Sans", Arial, sans-serif' font-size="7.3" fill="#808080">17</text>
<text x="827.2" y="487.8" text-anchor="middle" font-family='"Liberation Sans", Arial, sans-serif' font-size="7.3" fill="#808080">Sep</text>
<text x="882.7" y="487.8" text-anchor="middle" font-family='"Liberation Sans", Arial, sans-serif' font-size="7.3" fill="#808080">14</text>
<text x="955.3" y="487.8" text-anchor="middle" font-family='"Liberation Sans", Arial, sans-serif' font-size="7.3" fill="#808080">Oct</text>
<text x="1002.2" y="487.8" text-anchor="middle" font-family='"Liberation Sans", Arial, sans-serif' font-size="7.3" fill="#808080">12</text>
<path d="M1041.5 342.5H1044.5M1041.5 324.5H1044.5M1041.5 306.5H1044.5M1041.5 287.5H1044.5M1041.5 269.5H1044.5M1041.5 251.5H1044.5M1041.5 233.5H1044.5M1041.5 215.5H1044.5M1041.5 197.5H1044.5M1041.5 178.5H1044.5M1041.5 160.5H1044.5M1041.5 142.5H1044.5M1041.5 124.5H1044.5M1041.5 106.5H1044.5M1041.5 88.5H1044.5M1041.5 70.5H1044.5M1041.5 51.5H1044.5M1041.5 33.5H1044.5M1041.5 373.5H1044.5M1041.5 406.5H1044.5M1041.5 472.5H1044.5M41.5 476.5V479.5M105.5 476.5V479.5M173.5 476.5V479.5M225.5 476.5V479.5M301.5 476.5V479.5M374.5 476.5V479.5M434.5 476.5V479.5M494.5 476.5V479.5M562.5 476.5V479.5M613.5 476.5V479.5M694.5 476.5V479.5M763.5 476.5V479.5M827.5 476.5V479.5M882.5 476.5V479.5M955.5 476.5V479.5M1002.5 476.5V479.5" stroke="#888" stroke-width="1"/>
<rect x="1041" y="36.6" width="33.40000000000009" height="10.8" fill="#f7a01e"/>
<text x="1046.2" y="44.6" font-family='"Liberation Sans", Arial, sans-serif' font-size="7.2" font-weight="bold" fill="#80500a" textLength="23.4" lengthAdjust="spacingAndGlyphs">488.594</text>
<rect x="1048.3" y="30.4" width="20.3" height="8.9" fill="#fff" stroke="#ececec" stroke-width="0.6"/>
<text x="1050.5" y="36.6" font-family='"Liberation Sans", Arial, sans-serif' font-size="7" fill="#888" textLength="17" lengthAdjust="spacingAndGlyphs">USDT</text>
<rect x="1023.8" y="109.2" width="17.200000000000045" height="9.6" fill="#2f8fe0"/>
<text x="1029" y="116.6" font-family='"Liberation Sans", Arial, sans-serif' font-size="7.2" font-weight="bold" fill="#fff" textLength="8.6" lengthAdjust="spacingAndGlyphs">MA</text>
<rect x="1041" y="109.2" width="33.40000000000009" height="9.6" fill="#2f8fe0"/>
<text x="1046.2" y="116.6" font-family='"Liberation Sans", Arial, sans-serif' font-size="7.2" font-weight="bold" fill="#fff" textLength="22.7" lengthAdjust="spacingAndGlyphs">389.622</text>
<path d="M1041.5 114.5H1044" stroke="#fff" stroke-width="1" opacity="0.8"/>
<rect x="1005.9" y="145.3" width="35.10000000000002" height="9.6" fill="#cf4b43"/>
<text x="1009.7" y="152.7" font-family='"Liberation Sans", Arial, sans-serif' font-size="7.2" font-weight="bold" fill="#fff" textLength="27.5" lengthAdjust="spacingAndGlyphs">ETHUSDT</text>
<rect x="1041" y="145.3" width="33.40000000000009" height="9.6" fill="#cf4b43"/>
<text x="1046.2" y="152.7" font-family='"Liberation Sans", Arial, sans-serif' font-size="7.2" font-weight="bold" fill="#fff" textLength="23.4" lengthAdjust="spacingAndGlyphs">339.890</text>
<path d="M1041.5 150.5H1044" stroke="#fff" stroke-width="1" opacity="0.8"/>
<rect x="1041.5" y="155.9" width="32.90000000000009" height="9.6" fill="#cf4b43"/>
<text x="1043.8" y="163.3" font-family='"Liberation Sans", Arial, sans-serif' font-size="7.2" font-weight="bold" fill="#fff" textLength="25.8" lengthAdjust="spacingAndGlyphs">07:19:48</text>
<rect x="1041" y="167.7" width="33.40000000000009" height="9.8" fill="#f7a01e"/>
<text x="1046.2" y="175.2" font-family='"Liberation Sans", Arial, sans-serif' font-size="7.2" font-weight="bold" fill="#6a4000" textLength="23.4" lengthAdjust="spacingAndGlyphs">308.392</text>
<path d="M1041.5 172.5H1044" stroke="#fde0b0" stroke-width="1" opacity="0.8"/>
<rect x="1024" y="206.8" width="17" height="9.6" fill="#e53935"/>
<text x="1029" y="214.2" font-family='"Liberation Sans", Arial, sans-serif' font-size="7.2" font-weight="bold" fill="#fff" textLength="8.6" lengthAdjust="spacingAndGlyphs">MA</text>
<rect x="1041" y="206.8" width="33.40000000000009" height="9.6" fill="#e53935"/>
<text x="1046.2" y="214.2" font-family='"Liberation Sans", Arial, sans-serif' font-size="7.2" font-weight="bold" fill="#fff" textLength="23.4" lengthAdjust="spacingAndGlyphs">255.308</text>
<path d="M1041.5 211.5H1044" stroke="#fff" stroke-width="1" opacity="0.8"/>
<rect x="1024.1" y="433.0" width="16.90000000000009" height="9.6" fill="#8e1a9a"/>
<text x="1028.5" y="440.4" font-family='"Liberation Sans", Arial, sans-serif' font-size="7.2" font-weight="bold" fill="#fff" textLength="9.5" lengthAdjust="spacingAndGlyphs">RSI</text>
<rect x="1041" y="433.0" width="27" height="9.6" fill="#8e1a9a"/>
<text x="1046.5" y="440.4" font-family='"Liberation Sans", Arial, sans-serif' font-size="7.2" font-weight="bold" fill="#fff" textLength="17.5" lengthAdjust="spacingAndGlyphs">41.24</text>
<path d="M1041.5 437.5H1044" stroke="#fff" stroke-width="1" opacity="0.8"/>
<text x="9.2" y="38.2" font-family='"Liberation Sans", Arial, sans-serif' font-size="7.9" fill="#555" font-weight="bold" textLength="109.3" lengthAdjust="spacingAndGlyphs">Ethereum / Tether, 1D, HITBTC</text>
<text x="9" y="48.8" font-family='"Liberation Sans", Arial, sans-serif' font-size="7.9" fill="#777" textLength="51.8" lengthAdjust="spacingAndGlyphs">MA (200, close)</text>
<text x="9" y="58.9" font-family='"Liberation Sans", Arial, sans-serif' font-size="7.9" fill="#777" textLength="57.3" lengthAdjust="spacingAndGlyphs">MA (50, close, 0)</text>
<text x="9" y="363.4" font-family='"Liberation Sans", Arial, sans-serif' font-size="7.9" fill="#777" textLength="47.2" lengthAdjust="spacingAndGlyphs">RSI (14, close)</text>
<g><circle cx="6" cy="504.6" r="2.6" fill="#1f7fd6"/><circle cx="10.3" cy="502.9" r="3.9" fill="#1f7fd6"/><circle cx="15.6" cy="504.3" r="3" fill="#1f7fd6"/><rect x="4.4" y="504.2" width="13.6" height="3.2" rx="1.5" fill="#1f7fd6"/><path d="M5.6 506.4L9.6 502L12.2 505.2L13.9 503.7" stroke="#7fd0ff" stroke-width="1.4" fill="none" stroke-linejoin="round"/></g>
<text x="21.1" y="506" font-family='"Liberation Sans", Arial, sans-serif' font-size="8.2" fill="#333" textLength="41.9" lengthAdjust="spacingAndGlyphs">TradingView</text>
</svg></body></html>
